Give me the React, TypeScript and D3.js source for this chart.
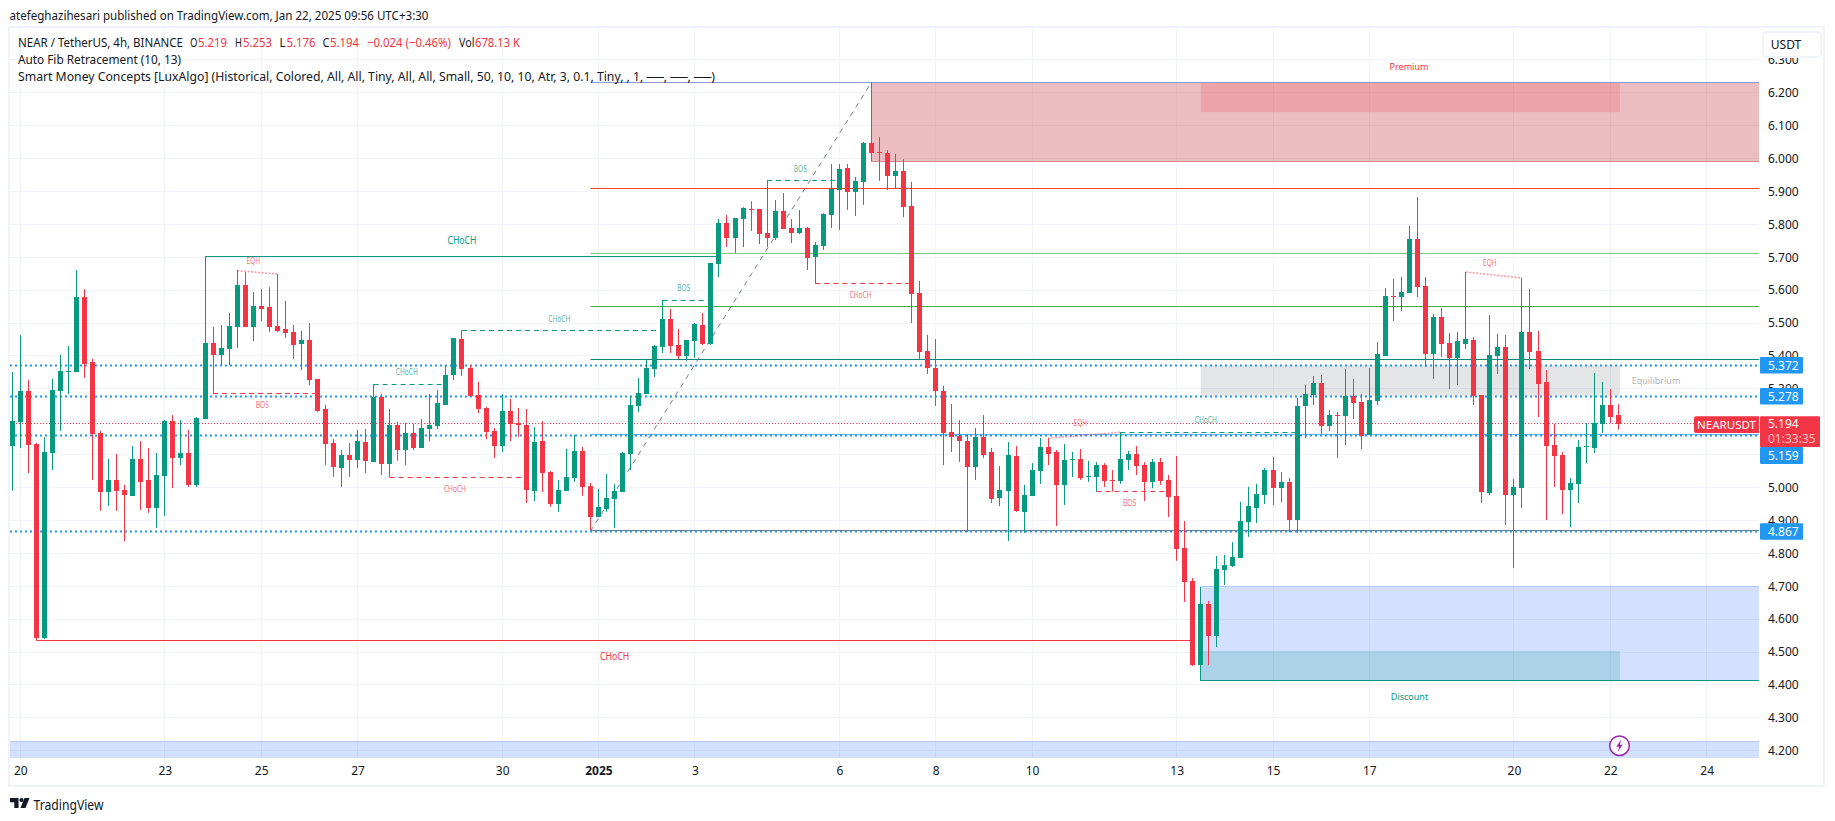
import React, { useRef, useEffect } from "react";
import * as d3 from "d3";

// candles, 4h bars (index 0 = Dec 19 evening)
const opens = [
  5.127, 5.199, 5.293, 5.132, 4.544, 5.105, 5.293, 5.351, 5.351, 5.579,
  5.381, 5.166, 4.986, 5.023, 4.992, 4.974, 5.087, 5.023, 4.938, 5.035,
  5.202, 5.09, 5.105, 5.008, 5.208, 5.439, 5.403, 5.421, 5.488, 5.615,
  5.488, 5.552, 5.549, 5.491, 5.482, 5.473, 5.436, 5.448, 5.33, 5.239,
  5.135, 5.059, 5.099, 5.084, 5.138, 5.078, 5.275, 5.071, 5.19, 5.114,
  5.166, 5.12, 5.178, 5.187, 5.251, 5.342, 5.451, 5.363, 5.281, 5.242,
  5.172, 5.126, 5.233, 5.196, 5.19, 4.989, 5.141, 5.047, 4.95, 4.989,
  5.029, 5.111, 5.005, 4.91, 4.935, 4.965, 4.986, 5.102, 5.248, 5.284,
  5.36, 5.427, 5.512, 5.433, 5.4, 5.445, 5.494, 5.436, 5.679, 5.804,
  5.758, 5.816, 5.846, 5.846, 5.773, 5.758, 5.84, 5.789, 5.773, 5.789,
  5.701, 5.734, 5.828, 5.904, 5.971, 5.898, 5.929, 6.047, 6.02, 6.017,
  5.947, 5.962, 5.855, 5.591, 5.415, 5.363, 5.293, 5.169, 5.156, 5.141,
  5.062, 5.153, 5.108, 4.968, 4.989, 5.096, 4.926, 4.974, 5.05, 5.123,
  5.108, 5.008, 5.084, 5.087, 5.032, 5.032, 5.068, 5.023, 5.02, 5.084,
  5.102, 5.068, 5.017, 5.077, 5.023, 4.974, 4.816, 4.716, 4.46, 4.646,
  4.549, 4.749, 4.761, 4.786, 4.895, 4.938, 4.977, 5.053, 4.998, 5.017,
  4.901, 5.248, 5.281, 5.318, 5.187, 5.22, 5.217, 5.278, 5.26, 5.16,
  5.263, 5.4, 5.582, 5.579, 5.591, 5.755, 5.612, 5.406, 5.518, 5.439,
  5.394, 5.436, 5.448, 5.281, 4.983, 5.4, 5.427, 4.977, 4.998, 5.473,
  5.415, 5.321, 5.129, 5.099, 4.992, 5.011, 5.123, 5.12, 5.193, 5.251,
  5.219,
];
const highs = [
  5.351, 5.463, 5.327, 5.135, 5.153, 5.33, 5.403, 5.43, 5.661, 5.603,
  5.391, 5.172, 5.087, 5.102, 5.008, 5.126, 5.141, 5.12, 5.105, 5.205,
  5.22, 5.205, 5.175, 5.214, 5.703, 5.488, 5.494, 5.531, 5.661, 5.655,
  5.594, 5.603, 5.609, 5.649, 5.567, 5.494, 5.476, 5.5, 5.33, 5.251,
  5.147, 5.114, 5.135, 5.175, 5.178, 5.314, 5.284, 5.239, 5.199, 5.196,
  5.193, 5.208, 5.284, 5.296, 5.369, 5.454, 5.478, 5.372, 5.321, 5.245,
  5.181, 5.284, 5.269, 5.242, 5.239, 5.184, 5.202, 5.05, 5.023, 5.117,
  5.16, 5.123, 5.014, 4.996, 5.041, 5.011, 5.108, 5.278, 5.333, 5.388,
  5.433, 5.57, 5.543, 5.482, 5.448, 5.5, 5.53, 5.682, 5.816, 5.828,
  5.819, 5.852, 5.87, 5.846, 5.935, 5.874, 5.895, 5.816, 5.843, 5.792,
  5.746, 5.834, 5.983, 5.983, 5.983, 5.944, 6.05, 6.232, 6.065, 6.026,
  6.014, 5.998, 5.929, 5.628, 5.464, 5.451, 5.309, 5.254, 5.205, 5.16,
  5.181, 5.22, 5.12, 5.065, 5.138, 5.126, 5.008, 5.074, 5.15, 5.15,
  5.114, 5.132, 5.108, 5.117, 5.081, 5.077, 5.074, 5.053, 5.168, 5.111,
  5.126, 5.077, 5.087, 5.09, 5.038, 5.096, 4.898, 4.725, 4.698, 4.655,
  4.792, 4.795, 4.834, 4.956, 5.002, 5.011, 5.059, 5.093, 5.047, 5.029,
  5.272, 5.312, 5.339, 5.342, 5.236, 5.229, 5.36, 5.33, 5.284, 5.363,
  5.442, 5.606, 5.634, 5.64, 5.795, 5.883, 5.64, 5.527, 5.546, 5.47,
  5.473, 5.655, 5.457, 5.281, 5.524, 5.467, 5.464, 5.026, 5.637, 5.603,
  5.476, 5.357, 5.193, 5.108, 5.029, 5.144, 5.196, 5.348, 5.321, 5.299,
  5.253,
];
const lows = [
  4.99, 5.12, 5.044, 4.535, 4.54, 5.053, 5.172, 5.284, 5.351, 5.333,
  5.023, 4.929, 4.944, 4.929, 4.837, 4.974, 4.932, 4.923, 4.877, 4.913,
  4.998, 5.068, 5.002, 5.002, 5.208, 5.286, 5.372, 5.372, 5.424, 5.488,
  5.445, 5.506, 5.473, 5.473, 5.455, 5.391, 5.357, 5.311, 5.23, 5.068,
  5.032, 5.002, 5.032, 5.059, 5.044, 5.078, 5.038, 5.031, 5.081, 5.068,
  5.114, 5.12, 5.141, 5.178, 5.251, 5.327, 5.339, 5.278, 5.226, 5.147,
  5.09, 5.108, 5.141, 5.153, 4.953, 4.959, 4.986, 4.941, 4.926, 4.989,
  5.017, 4.975, 4.871, 4.91, 4.926, 4.877, 4.986, 5.053, 5.23, 5.284,
  5.336, 5.409, 5.409, 5.391, 5.385, 5.394, 5.433, 5.433, 5.64, 5.731,
  5.713, 5.731, 5.78, 5.74, 5.731, 5.752, 5.786, 5.743, 5.77, 5.661,
  5.62, 5.722, 5.789, 5.783, 5.844, 5.825, 5.859, 5.991, 5.932, 5.904,
  5.91, 5.822, 5.5, 5.391, 5.345, 5.248, 5.068, 5.108, 5.078, 4.865,
  5.023, 5.09, 4.953, 4.944, 4.837, 4.926, 4.862, 4.974, 5.011, 5.068,
  4.883, 4.947, 5.032, 5.023, 5.017, 4.988, 5.002, 4.988, 5.011, 5.053,
  5.038, 4.959, 4.998, 5.008, 4.91, 4.777, 4.652, 4.457, 4.412, 4.46,
  4.515, 4.704, 4.758, 4.786, 4.85, 4.892, 4.95, 4.947, 4.956, 4.865,
  4.862, 5.15, 5.251, 5.163, 5.172, 5.09, 5.129, 5.208, 5.117, 5.16,
  5.251, 5.4, 5.506, 5.536, 5.591, 5.579, 5.366, 5.33, 5.397, 5.299,
  5.312, 5.421, 5.251, 4.953, 4.977, 5.345, 4.886, 4.755, 4.938, 5.36,
  5.214, 4.901, 5.002, 4.919, 4.88, 4.953, 5.074, 5.105, 5.166, 5.196,
  5.176,
];
const closes = [
  5.202, 5.293, 5.129, 4.543, 5.108, 5.296, 5.354, 5.354, 5.579, 5.375,
  5.163, 4.986, 5.023, 4.989, 4.977, 5.087, 5.017, 4.938, 5.038, 5.202,
  5.09, 5.105, 5.008, 5.211, 5.439, 5.403, 5.424, 5.491, 5.615, 5.488,
  5.552, 5.542, 5.488, 5.476, 5.47, 5.433, 5.448, 5.327, 5.233, 5.132,
  5.062, 5.099, 5.084, 5.141, 5.081, 5.275, 5.071, 5.19, 5.114, 5.166,
  5.12, 5.181, 5.19, 5.257, 5.342, 5.454, 5.36, 5.278, 5.239, 5.169,
  5.126, 5.233, 5.193, 5.19, 4.992, 5.138, 5.044, 4.95, 4.992, 5.032,
  5.111, 5.002, 4.91, 4.941, 4.968, 4.989, 5.105, 5.251, 5.287, 5.363,
  5.43, 5.512, 5.43, 5.4, 5.448, 5.497, 5.436, 5.682, 5.804, 5.758,
  5.819, 5.849, 5.843, 5.77, 5.758, 5.84, 5.786, 5.773, 5.789, 5.698,
  5.737, 5.831, 5.907, 5.968, 5.898, 5.932, 6.047, 6.017, 6.017, 5.947,
  5.962, 5.852, 5.588, 5.412, 5.363, 5.293, 5.166, 5.153, 5.141, 5.062,
  5.153, 5.099, 4.965, 4.992, 5.099, 4.929, 4.977, 5.053, 5.123, 5.102,
  5.008, 5.084, 5.087, 5.029, 5.035, 5.068, 5.02, 5.02, 5.087, 5.102,
  5.065, 5.017, 5.077, 5.02, 4.971, 4.813, 4.714, 4.46, 4.646, 4.549,
  4.752, 4.764, 4.789, 4.898, 4.944, 4.98, 5.053, 4.998, 5.017, 4.901,
  5.248, 5.284, 5.318, 5.187, 5.22, 5.217, 5.278, 5.257, 5.157, 5.266,
  5.406, 5.582, 5.579, 5.594, 5.755, 5.609, 5.406, 5.518, 5.436, 5.394,
  5.445, 5.451, 5.278, 4.986, 5.403, 5.427, 4.977, 5.002, 5.473, 5.412,
  5.315, 5.126, 5.096, 4.992, 5.014, 5.123, 5.126, 5.196, 5.251, 5.214,
  5.194,
];

const priceTicks = [4.2, 4.3, 4.4, 4.5, 4.6, 4.7, 4.8, 4.9, 5.0, 5.1, 5.2, 5.3, 5.4, 5.5, 5.6, 5.7, 5.8, 5.9, 6.0, 6.1, 6.2, 6.3];
const timeTicks = [1, 19, 31, 43, 61, 73, 85, 103, 115, 127, 145, 157, 169, 187, 199, 211];
const timeLabels = ["20", "23", "25", "27", "30", "2025", "3", "6", "8", "10", "13", "15", "17", "20", "22", "24"];

const rayLevels = [5.372, 5.278, 5.159, 4.867];

const fibStart = 72;
const fibEnd = 107;
const fibLevels = [6.232, 5.909, 5.712, 5.551, 5.39, 5.16, 4.869];
const fibColors = ["#8a9bcc", "#f44336", "#81c784", "#4caf50", "#00897b", "#64b5f6", "#787b86"];

// BOS / CHoCH dashed structure lines
const dashLabels = ["BOS", "CHoCH", "CHoCH", "CHoCH", "BOS", "BOS", "CHoCH", "BOS", "CHoCH"];
const dashBull = [false, true, true, false, true, true, false, false, true];
const dashFrom = [25, 45, 56, 47, 81, 94, 100, 135, 138];
const dashTo = [38, 54, 81, 64, 87, 103, 112, 144, 160];
const dashPrice = [5.286, 5.314, 5.477, 5.031, 5.569, 5.933, 5.62, 4.988, 5.168];

const eqhFrom = [28, 129, 181];
const eqhTo = [33, 138, 188];
const eqhFromPrice = [5.659, 5.15, 5.655];
const eqhToPrice = [5.649, 5.168, 5.637];

const UP = "#089981";
const DOWN = "#f23645";
const INK = "#131722";
const BLUE = "#2196f3";
const FONT = "'Noto Sans', sans-serif";

const W = 1835;
const H = 821;
const PANE = { left: 10, right: 1759, top: 28, bottom: 758 };

const App = () => {
  const ref = useRef<SVGSVGElement>(null);

  useEffect(() => {
    const svg = d3.select(ref.current);
    svg.selectAll("*").remove();
    svg.attr("font-family", FONT);

    const x = d3.scaleLinear().domain([0, 200]).range([12.3, 1618.3]);
    const y = d3.scaleLinear().domain([4.2, 6.2]).range([750.7, 92.7]);
    const crisp = (v: number) => Math.floor(v) + 0.5;
    const fmt = d3.format(".3f");

    svg.append("rect").attr("width", W).attr("height", H).attr("fill", "#fff");

    svg.append("clipPath").attr("id", "pane")
      .append("rect")
      .attr("x", PANE.left).attr("y", PANE.top)
      .attr("width", PANE.right - PANE.left).attr("height", PANE.bottom - PANE.top);

    const pane = svg.append("g").attr("clip-path", "url(#pane)");

    // grid
    pane.selectAll(".hg").data(priceTicks).enter().append("line")
      .attr("x1", PANE.left).attr("x2", PANE.right)
      .attr("y1", (d) => crisp(y(d))).attr("y2", (d) => crisp(y(d)))
      .attr("stroke", "#f0f3fa");
    pane.selectAll(".vg").data(timeTicks).enter().append("line")
      .attr("x1", (d) => crisp(x(d))).attr("x2", (d) => crisp(x(d)))
      .attr("y1", PANE.top).attr("y2", PANE.bottom)
      .attr("stroke", "#f0f3fa");

    // zones
    const zone = (i0: number, i1: number | null, top: number, bottom: number, fill: string) =>
      pane.append("rect")
        .attr("x", x(i0))
        .attr("y", y(top))
        .attr("width", (i1 === null ? PANE.right : x(i1)) - x(i0))
        .attr("height", y(bottom) - y(top))
        .attr("fill", fill);

    zone(107, null, 6.232, 5.991, "rgba(197,58,67,0.33)");
    zone(148, 200.2, 6.232, 6.141, "rgba(242,54,69,0.19)");
    zone(148, 200.2, 5.371, 5.279, "rgba(120,123,134,0.2)");
    zone(148, null, 4.698, 4.412, "rgba(41,98,255,0.2)");
    zone(148, 200.2, 4.503, 4.412, "rgba(8,153,129,0.2)");
    zone(-5, null, 4.229, 4.17, "rgba(41,98,255,0.2)");

    const hline = (x1: number, x2: number, p: number, color: string, width = 1, dash = "") =>
      pane.append("line")
        .attr("x1", x1).attr("x2", x2)
        .attr("y1", crisp(y(p))).attr("y2", crisp(y(p)))
        .attr("stroke", color).attr("stroke-width", width)
        .attr("stroke-dasharray", dash);

    // zone edges
    hline(x(107), PANE.right, 5.991, "#d98b90");
    hline(x(148), PANE.right, 4.698, "#b2c8ee");
    hline(PANE.left, PANE.right, 4.229, "#b2c8ee");
    hline(x(148), PANE.right, 4.412, UP);

    // auto fib
    fibLevels.forEach((p, i) => hline(x(fibStart), PANE.right, p, fibColors[i]));
    pane.append("line")
      .attr("x1", x(fibStart)).attr("y1", y(4.867))
      .attr("x2", x(fibEnd)).attr("y2", y(6.232))
      .attr("stroke", "#787b86").attr("stroke-dasharray", "5 5");

    // horizontal rays and last price line
    rayLevels.forEach((p) => hline(PANE.left, PANE.right, p, BLUE, 2, "2 3"));
    hline(PANE.left, 1694, closes[closes.length - 1], DOWN, 1, "1 2");

    // long CHoCH lines
    hline(x(24), x(88), 5.703, UP);
    hline(x(3), x(147), 4.535, DOWN);

    // dashed structure
    dashLabels.forEach((_, i) =>
      hline(x(dashFrom[i]), x(dashTo[i]), dashPrice[i], dashBull[i] ? UP : DOWN, 1, "5 4"));

    // equal highs
    eqhFrom.forEach((d, i) => {
      pane.append("line")
        .attr("x1", x(d)).attr("y1", y(eqhFromPrice[i]))
        .attr("x2", x(eqhTo[i])).attr("y2", y(eqhToPrice[i]))
        .attr("stroke", DOWN).attr("stroke-opacity", 0.5)
        .attr("stroke-width", 1.5).attr("stroke-dasharray", "2 1.5");
    });

    // candles
    const bars = pane.selectAll(".bar").data(d3.range(opens.length)).enter().append("g")
      .attr("fill", (i) => (closes[i] >= opens[i] ? UP : DOWN));
    bars.append("rect")
      .attr("x", (i) => Math.floor(x(i)))
      .attr("width", 1)
      .attr("y", (i) => y(highs[i]))
      .attr("height", (i) => y(lows[i]) - y(highs[i]));
    bars.append("rect")
      .attr("x", (i) => Math.floor(x(i)) - 2)
      .attr("width", 5)
      .attr("y", (i) => Math.round(y(Math.max(opens[i], closes[i]))))
      .attr("height", (i) => Math.max(1, Math.round(y(Math.min(opens[i], closes[i]))) - Math.round(y(Math.max(opens[i], closes[i])))));

    // labels in the pane
    const label = (px: number, py: number, text: string, color: string, size: number, opacity = 1, len?: number) => {
      const el = pane.append("text")
        .attr("x", px).attr("y", py)
        .attr("text-anchor", "middle").attr("dominant-baseline", "central")
        .attr("font-size", size).attr("fill", color).attr("fill-opacity", opacity)
        .text(text);
      if (len) el.attr("textLength", len).attr("lengthAdjust", "spacingAndGlyphs");
    };

    dashLabels.forEach((t, i) => {
      const mid = (x(dashFrom[i]) + x(dashTo[i])) / 2;
      label(mid - 3, y(dashPrice[i]) + (dashBull[i] ? -12.5 : 11), t, dashBull[i] ? UP : DOWN, 8, 0.75, t === "BOS" ? 13 : 22);
    });
    eqhFrom.forEach((d, i) => {
      const mid = (x(d) + x(eqhTo[i])) / 2;
      label(mid - 4, y(Math.max(eqhFromPrice[i], eqhToPrice[i])) - 10, "EQH", DOWN, 8, 0.75, 13.5);
    });
    label((x(24) + x(88)) / 2, y(5.703) - 16, "CHoCH", UP, 10, 1, 29);
    label((x(3) + x(147)) / 2, y(4.535) + 16, "CHoCH", DOWN, 10, 1, 29);
    label(1409, y(6.232) - 16, "Premium", DOWN, 9);
    label(x(174), y(4.412) + 16, "Discount", UP, 9);
    label(1656, (y(5.371) + y(5.279)) / 2, "Equilibrium", "#b2b5be", 9);

    // lightning marker
    const bolt = svg.append("g").attr("transform", `translate(1619.5,${745.7})`);
    bolt.append("circle").attr("r", 9.8).attr("fill", "#fff").attr("stroke", "#9c27b0").attr("stroke-width", 1.5);
    bolt.append("path").attr("d", "M1.6,-6 L-3.2,1 L-0.4,1 L-1.6,6 L3.2,-1 L0.4,-1 Z").attr("fill", "#9c27b0");

    // frame
    svg.append("rect")
      .attr("x", 9).attr("y", 27).attr("width", 1815).attr("height", 759)
      .attr("fill", "none").attr("stroke", "#f0f3fa").attr("stroke-width", 2);

    // axes
    const yAxis = svg.append("g")
      .attr("transform", `translate(${PANE.right},0)`)
      .call(d3.axisRight(y).tickValues(priceTicks).tickFormat((d) => fmt(+d)).tickSize(0).tickPadding(9));
    const xAxis = svg.append("g")
      .attr("transform", `translate(0,${PANE.bottom})`)
      .call(d3.axisBottom(x).tickValues(timeTicks).tickFormat((_, i) => timeLabels[i]).tickSize(0).tickPadding(8));
    [yAxis, xAxis].forEach((a) => {
      a.select(".domain").remove();
      a.selectAll("text").attr("font-family", FONT).attr("font-size", 12).attr("fill", INK);
    });
    xAxis.selectAll("text").filter((_, i) => timeLabels[i] === "2025").attr("font-weight", 700);

    // USDT button
    svg.append("rect")
      .attr("x", 1763).attr("y", 32).attr("width", 58).attr("height", 25).attr("rx", 4)
      .attr("fill", "#fff").attr("stroke", "#f0f3fa").attr("stroke-width", 2);
    svg.append("text")
      .attr("x", 1786).attr("y", 44.5).attr("text-anchor", "middle").attr("dominant-baseline", "central")
      .attr("font-size", 12).attr("fill", INK).text("USDT");

    // price badges
    const badge = (top: number, h: number, w: number, color: string) =>
      svg.append("rect").attr("x", 1760).attr("y", top).attr("width", w).attr("height", h).attr("rx", 1).attr("fill", color);
    const badgeText = (cy: number, t: string, opacity = 1, px = 1768) =>
      svg.append("text")
        .attr("x", px).attr("y", cy).attr("dominant-baseline", "central")
        .attr("font-size", 12).attr("fill", "#fff").attr("fill-opacity", opacity).text(t);

    [rayLevels[0], rayLevels[1], rayLevels[3]].forEach((p) => {
      badge(y(p) - 8, 16.5, 43, BLUE);
      badgeText(y(p), fmt(p));
    });
    const lastClose = closes[closes.length - 1];
    const lastY = y(lastClose);
    badge(lastY + 23.3, 17, 43, BLUE);
    badgeText(lastY + 31.5, fmt(rayLevels[2]));
    badge(lastY - 7.5, 30.8, 60, DOWN);
    badgeText(lastY, fmt(lastClose));
    badgeText(lastY + 15, "01:33:35", 0.7);
    svg.append("path")
      .attr("d", `M1759,${lastY - 7.5} H1696 a2,2 0 0 0 -2,2 V${lastY + 7.3} a2,2 0 0 0 2,2 H1759 Z`)
      .attr("fill", DOWN);
    svg.append("text")
      .attr("x", 1726.5).attr("y", lastY + 0.5).attr("text-anchor", "middle").attr("dominant-baseline", "central")
      .attr("font-size", 11.5).attr("fill", "#fff").text("NEARUSDT");

    // header
    const head = (px: number, py: number, t: string, color = INK, len?: number) => {
      const el = svg.append("text")
        .attr("x", px).attr("y", py).attr("dominant-baseline", "central")
        .attr("font-size", 12.5).attr("fill", color).text(t);
      if (len) el.attr("textLength", len).attr("lengthAdjust", "spacingAndGlyphs");
    };
    const last = opens.length - 1;
    head(9.5, 15, "atefeghazihesari published on TradingView.com, Jan 22, 2025 09:56 UTC+3:30", INK, 419);
    head(18, 42, "NEAR / TetherUS, 4h, BINANCE", INK, 165);
    head(190, 42, "O", INK, 7.5);
    head(198, 42, fmt(opens[last]), DOWN, 29);
    head(235, 42, "H", INK, 7);
    head(243, 42, fmt(highs[last]), DOWN, 29);
    head(279.5, 42, "L", INK, 6);
    head(286.6, 42, fmt(lows[last]), DOWN, 29);
    head(322.5, 42, "C", INK, 7);
    head(330, 42, fmt(closes[last]), DOWN, 29);
    head(367, 42, "−0.024 (−0.46%)", DOWN, 84);
    head(459, 42, "Vol", INK, 15.5);
    head(475, 42, "678.13 K", DOWN, 45);
    head(18, 59, "Auto Fib Retracement (10, 13)", INK, 163);
    head(18, 76, "Smart Money Concepts [LuxAlgo] (Historical, Colored, All, All, Tiny, All, All, Small, 50, 10, 10, Atr, 3, 0.1, Tiny, , 1, ──, ──, ──)", INK, 697);

    // logo
    const logo = svg.append("g").attr("transform", "translate(10,798)").attr("fill", INK);
    logo.append("path").attr("d", "M0,0 H8.5 V10 H4.3 V4.2 H0 Z");
    logo.append("circle").attr("cx", 11.5).attr("cy", 2.1).attr("r", 2.1);
    logo.append("path").attr("d", "M14.5,0 H19.5 L15.5,10 H10.5 Z");
    svg.append("text")
      .attr("x", 33.5).attr("y", 804).attr("dominant-baseline", "central")
      .attr("font-size", 14).attr("fill", INK)
      .attr("textLength", 70).attr("lengthAdjust", "spacingAndGlyphs").text("TradingView");
  }, []);

  return <svg ref={ref} width={W} height={H} style={{ position: "fixed", left: 0, top: 0, display: "block" }}></svg>;
};

export default App;
